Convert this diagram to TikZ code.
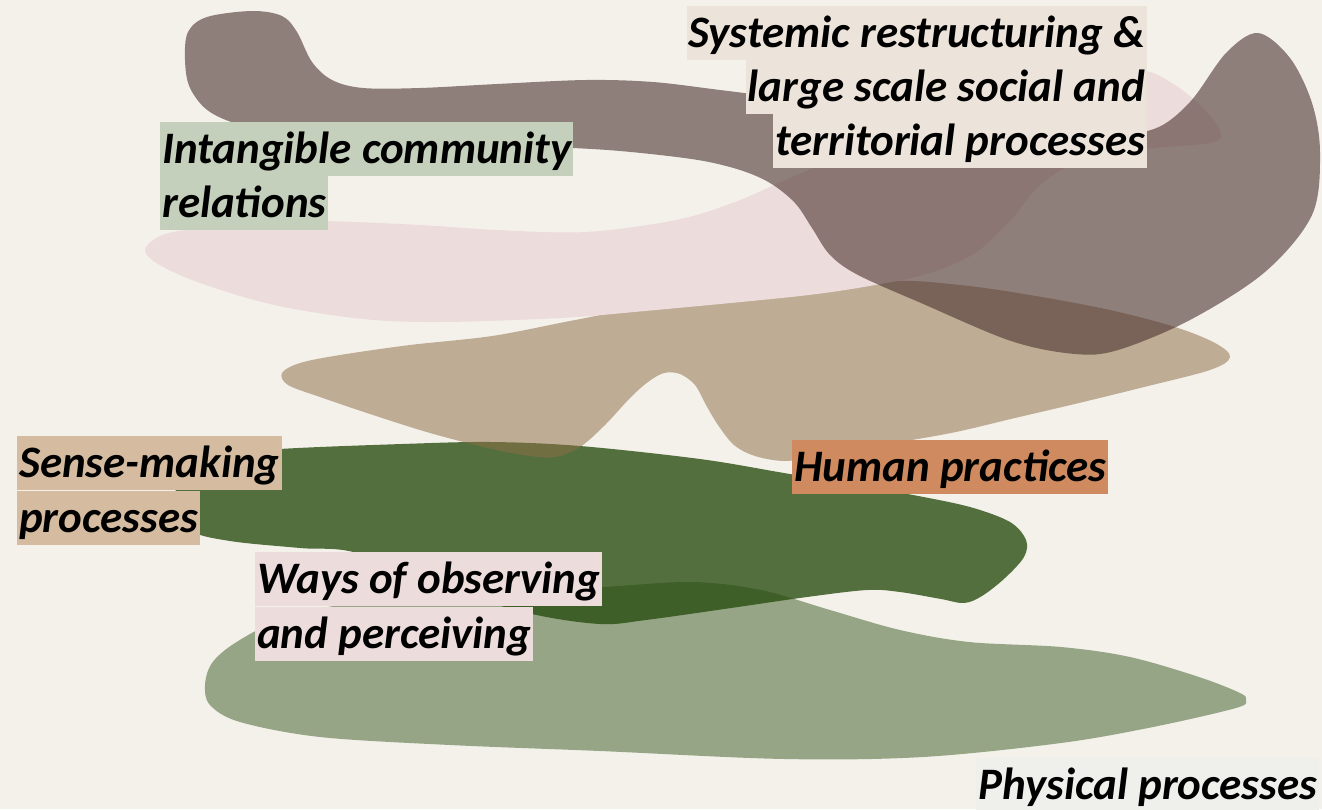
\documentclass[tikz,border=0pt]{standalone}
\usepackage{fontspec}
\newfontfamily\carl{Carlito}
\definecolor{bgc}{RGB}{244,241,235}
\definecolor{pinkc}{RGB}{237,220,220}
\definecolor{mauvec}{RGB}{76,51,48}
\definecolor{tanc}{RGB}{142,110,70}
\definecolor{greenc}{RGB}{40,77,16}
\definecolor{sysc}{RGB}{236,227,218}
\definecolor{intc}{RGB}{197,208,188}
\definecolor{sensec}{RGB}{213,188,160}
\definecolor{waysc}{RGB}{237,220,220}
\definecolor{humc}{RGB}{207,139,95}
\definecolor{physc}{RGB}{239,239,236}
\tikzset{
  lbl/.style={inner xsep=2pt, inner ysep=0pt, text height=41pt, text depth=13pt,
    font=\carl\bfseries\itshape\fontsize{45}{54}\selectfont, text=black},
  mauveblob/.style={fill=mauvec, fill opacity=0.6},
  tanblob/.style={fill=tanc, fill opacity=0.52},
  pinkblob/.style={fill=pinkc},
  darkgreenblob/.style={fill=greenc, fill opacity=0.79},
  lightgreenblob/.style={fill=greenc, fill opacity=0.46}
}
\begin{document}
\begin{tikzpicture}[x=1pt,y=-1pt]
\useasboundingbox (0,0) rectangle (1322,809);
\fill[bgc] (0,0) rectangle (1322,809);
% dark green blob
\fill[darkgreenblob] plot[smooth cycle, tension=0.55] coordinates {
(185,470) (220,456) (280,449) (402,444) (491,442) (580,446) (700,459) (784,473)
(850,484) (913,495) (970,507) (1010,522) (1026,540) (1024,557) (1005,578) (982,596)
(964,603) (941,599) (900,592) (867,590) (807,597) (738,607) (646,620) (600,624)
(532,614) (450,590) (357,553) (300,548) (230,541) (190,530) (175,500)};
% light green blob
\fill[lightgreenblob] plot[smooth cycle, tension=0.55] coordinates {
(205,685) (212,663) (235,643) (280,620) (350,603) (450,594) (530,590) (603,587)
(692,582) (761,590) (830,610) (900,630) (969,642) (1061,647) (1130,657) (1199,677)
(1240,693) (1246,700) (1236,708) (1153,727) (1061,743) (923,757) (784,759) (600,751)
(450,745) (320,737) (240,722) (210,705)};
% tan blob
\fill[tanblob] plot[smooth cycle, tension=0.55] coordinates {
(282,373) (300,363) (340,355) (410,345) (492,336) (570,321) (645,307) (760,292)
(888,281) (960,285) (1030,295) (1110,310) (1175,327) (1215,343) (1230,357) (1210,370)
(1140,388) (1079,403) (1015,418) (951,433) (876,446) (820,456) (785,461) (755,456)
(734,445) (718,425) (706,405) (695,385) (680,374) (664,373) (648,382) (630,398)
(605,425) (580,447) (555,457) (530,456) (492,449) (430,433) (370,414) (320,397) (288,385)};
% pink blob
\fill[pinkblob] plot[smooth cycle, tension=0.55] coordinates {
(145,250) (158,237) (185,230) (250,224) (319,221) (420,225) (497,230) (586,232)
(676,220) (735,202) (790,178) (880,140) (980,105) (1080,78) (1140,70) (1175,85)
(1205,110) (1221,133) (1210,143) (1154,148) (1110,155) (1065,168) (1035,190) (1011,220)
(975,253) (930,273) (875,285) (800,296) (645,311) (560,318) (441,322) (363,319)
(274,305) (200,283) (158,264)};
% mauve blob
\fill[mauveblob] plot[smooth cycle, tension=0.55] coordinates {
(185,60) (188,32) (207,17) (252,11) (282,16) (297,32) (312,62) (332,80) (363,88)
(420,88) (497,84) (586,80) (653,82) (720,90) (800,100) (900,112) (1000,124) (1100,134)
(1154,129) (1190,102) (1226,53) (1258,33) (1290,58) (1312,103) (1320,153) (1312,215)
(1265,272) (1190,320) (1118,350) (1075,354) (1011,341) (921,303) (858,275) (830,255)
(812,228) (795,203) (770,183) (740,170) (698,160) (631,152) (573,148) (450,143)
(330,137) (250,127) (210,112) (190,88)};
% labels
\node[lbl, fill=sysc, anchor=north east] (sys1) at (1147,6) {Systemic restructuring \&};
\node[lbl, fill=sysc, anchor=north east] (sys2) at (1147,60) {large scale social and};
\node[lbl, fill=sysc, anchor=north east] (sys3) at (1147,114) {territorial processes};
\node[lbl, fill=intc, anchor=north west] (int1) at (160,122) {Intangible community};
\node[lbl, fill=intc, anchor=north west] (int2) at (160,176) {relations};
\node[lbl, fill=sensec, anchor=north west] (sen1) at (17,436) {Sense-making};
\node[lbl, fill=sensec, anchor=north west] (sen2) at (17,491) {processes};
\node[lbl, fill=waysc, anchor=north west] (way1) at (255,552) {Ways of observing};
\node[lbl, fill=waysc, anchor=north west] (way2) at (255,607) {and perceiving};
\node[lbl, fill=humc, anchor=north west] (hum) at (792,440) {Human practices};
\node[lbl, fill=physc, anchor=north west] (phy) at (976,758) {Physical processes};
\end{tikzpicture}
\end{document}
